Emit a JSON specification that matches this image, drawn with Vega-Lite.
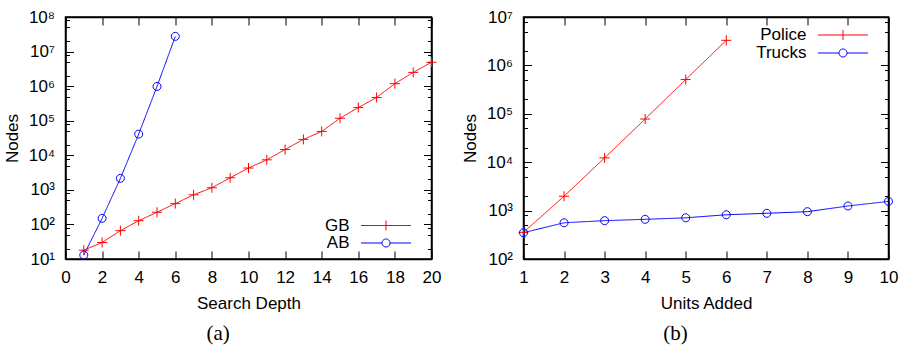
{
  "$schema": "https://vega.github.io/schema/vega-lite/v6.json",
  "background": "white",
  "padding": {"left": 2.5, "top": 7, "right": 5, "bottom": 5},
  "config": {
    "font": "Liberation Sans",
    "view": {"stroke": "black", "strokeWidth": 1.5},
    "axis": {
      "grid": false, "domainColor": "black", "domainWidth": 1.5,
      "tickColor": "black", "tickWidth": 1,
      "labelFont": "Liberation Sans", "labelFontSize": 17, "labelColor": "black",
      "titleFont": "Liberation Sans", "titleFontSize": 17, "titleFontWeight": "normal", "titleColor": "black",
      "labelOverlap": false, "labelFlush": false
    },
    "legend": {
      "labelFont": "Liberation Sans", "labelFontSize": 17, "labelColor": "black",
      "symbolStrokeWidth": 1, "symbolSize": 225, "rowPadding": 2, "symbolFillColor": "transparent",
      "labelAlign": "right", "labelOffset": -45, "padding": 0
    },
    "title": {"font": "Liberation Serif", "fontSize": 21, "fontWeight": "normal", "color": "black"}
  },
  "datasets": {
    "a": [
      {"x": 1, "y": 18, "series": "GB"}, {"x": 2, "y": 30, "series": "GB"}, {"x": 3, "y": 66, "series": "GB"},
      {"x": 4, "y": 128, "series": "GB"}, {"x": 5, "y": 225, "series": "GB"}, {"x": 6, "y": 400, "series": "GB"},
      {"x": 7, "y": 720, "series": "GB"}, {"x": 8, "y": 1150, "series": "GB"}, {"x": 9, "y": 2240, "series": "GB"},
      {"x": 10, "y": 4270, "series": "GB"}, {"x": 11, "y": 7400, "series": "GB"}, {"x": 12, "y": 14700, "series": "GB"},
      {"x": 13, "y": 28800, "series": "GB"}, {"x": 14, "y": 49000, "series": "GB"}, {"x": 15, "y": 118000, "series": "GB"},
      {"x": 16, "y": 240000, "series": "GB"}, {"x": 17, "y": 470000, "series": "GB"}, {"x": 18, "y": 1180000, "series": "GB"},
      {"x": 19, "y": 2500000, "series": "GB"}, {"x": 20, "y": 4900000, "series": "GB"},
      {"x": 1, "y": 13, "series": "AB"}, {"x": 2, "y": 150, "series": "AB"}, {"x": 3, "y": 2150, "series": "AB"},
      {"x": 4, "y": 41000, "series": "AB"}, {"x": 5, "y": 980000, "series": "AB"}, {"x": 6, "y": 27500000, "series": "AB"}
    ],
    "b": [
      {"x": 1, "y": 355, "series": "Police"}, {"x": 2, "y": 1980, "series": "Police"}, {"x": 3, "y": 12300, "series": "Police"},
      {"x": 4, "y": 78000, "series": "Police"}, {"x": 5, "y": 510000, "series": "Police"}, {"x": 6, "y": 3300000, "series": "Police"},
      {"x": 1, "y": 350, "series": "Trucks"}, {"x": 2, "y": 560, "series": "Trucks"}, {"x": 3, "y": 620, "series": "Trucks"},
      {"x": 4, "y": 660, "series": "Trucks"}, {"x": 5, "y": 710, "series": "Trucks"}, {"x": 6, "y": 820, "series": "Trucks"},
      {"x": 7, "y": 880, "series": "Trucks"}, {"x": 8, "y": 950, "series": "Trucks"}, {"x": 9, "y": 1245, "series": "Trucks"},
      {"x": 10, "y": 1550, "series": "Trucks"}
    ]
  },
  "resolve": {"scale": {"color": "independent", "strokeDash": "independent"}},
  "bounds": "flush",
  "spacing": 92,
  "hconcat": [
    {
      "width": 366, "height": 242,
      "data": {"name": "a"},
      "title": {"text": "(a)", "orient": "bottom", "anchor": "middle", "frame": "bounds", "offset": 12, "dx": -4},
      "resolve": {"axis": {"x": "independent", "y": "independent"}},
      "layer": [
        {
          "mark": {"type": "line", "strokeWidth": 1},
          "encoding": {
            "x": {"field": "x", "type": "quantitative", "scale": {"domain": [0, 20], "nice": false},
              "axis": {"title": "Search Depth", "values": [0,2,4,6,8,10,12,14,16,18,20], "tickSize": -8, "labelPadding": 18, "titlePadding": 10}},
            "y": {"field": "y", "type": "quantitative", "scale": {"type": "log", "domain": [10, 100000000], "nice": false},
              "axis": {"title": "Nodes", "titlePadding": 7, "labelPadding": 19,
                "values": [10,20,50,80,100,200,500,800,1000,2000,5000,8000,10000,20000,50000,80000,100000,200000,500000,800000,1000000,2000000,5000000,8000000,10000000,20000000,50000000,80000000,100000000],
                "labelExpr": "abs(log(datum.value)/LN10 - round(log(datum.value)/LN10)) < 0.001 ? '10' + ['⁰','¹','²','³','⁴','⁵','⁶','⁷','⁸','⁹'][round(log(datum.value)/LN10)] : ''",
                "tickSize": {"condition": {"test": "abs(log(datum.value)/LN10 - round(log(datum.value)/LN10)) < 0.001", "value": -8}, "value": -4}}},
            "color": {"field": "series", "type": "nominal", "scale": {"domain": ["GB", "AB"], "range": ["#ff0000", "#0000ff"]},
              "legend": {"title": null, "orient": "none", "legendX": 312, "legendY": 200, "values": ["GB"],
                "symbolType": "M-3.333,0H3.333M0,-0.667V0.667"}},
            "strokeDash": {"field": "series", "type": "nominal", "scale": {"domain": ["AB", "GB"], "range": [[1, 0], [1, 0]]},
              "legend": {"title": null, "orient": "none", "legendX": 312, "legendY": 217.5, "values": ["AB"], "symbolStrokeColor": "#0000ff",
                "symbolType": "M-3.333,0H-0.533M0.533,0H3.333M0.533,0A0.533,0.533 0 1 1 -0.533,0A0.533,0.533 0 1 1 0.533,0"}}
          }
        },
        {
          "transform": [{"filter": "datum.series === 'GB'"}],
          "mark": {"type": "point", "filled": false, "size": 100, "strokeWidth": 1, "opacity": 1, "color": "#ff0000", "shape": "M-1,0H1M0,-1V1"},
          "encoding": {
            "x": {"field": "x", "type": "quantitative",
              "axis": {"orient": "top", "title": null, "labels": false, "values": [0,2,4,6,8,10,12,14,16,18,20], "tickSize": -8}},
            "y": {"field": "y", "type": "quantitative",
              "axis": {"orient": "right", "title": null, "labels": false,
                "values": [10,20,50,80,100,200,500,800,1000,2000,5000,8000,10000,20000,50000,80000,100000,200000,500000,800000,1000000,2000000,5000000,8000000,10000000,20000000,50000000,80000000,100000000],
                "tickSize": {"condition": {"test": "abs(log(datum.value)/LN10 - round(log(datum.value)/LN10)) < 0.001", "value": -8}, "value": -4}}}
          }
        },
        {
          "transform": [{"filter": "datum.series === 'AB'"}],
          "mark": {"type": "point", "filled": false, "size": 100, "strokeWidth": 1, "opacity": 1, "color": "#0000ff", "shape": "M0.8,0A0.8,0.8 0 1 1 -0.8,0A0.8,0.8 0 1 1 0.8,0"},
          "encoding": {
            "x": {"field": "x", "type": "quantitative", "axis": null},
            "y": {"field": "y", "type": "quantitative", "axis": null}
          }
        }
      ]
    },
    {
      "width": 365, "height": 242,
      "data": {"name": "b"},
      "title": {"text": "(b)", "orient": "bottom", "anchor": "middle", "frame": "bounds", "offset": 12, "dx": -4},
      "resolve": {"axis": {"x": "independent", "y": "independent"}},
      "layer": [
        {
          "mark": {"type": "line", "strokeWidth": 1},
          "encoding": {
            "x": {"field": "x", "type": "quantitative", "scale": {"domain": [1, 10], "nice": false},
              "axis": {"title": "Units Added", "values": [1,2,3,4,5,6,7,8,9,10], "tickSize": -8, "labelPadding": 18, "titlePadding": 10}},
            "y": {"field": "y", "type": "quantitative", "scale": {"type": "log", "domain": [100, 10000000], "nice": false},
              "axis": {"title": "Nodes", "titlePadding": 7, "labelPadding": 19,
                "values": [100,200,500,800,1000,2000,5000,8000,10000,20000,50000,80000,100000,200000,500000,800000,1000000,2000000,5000000,8000000,10000000],
                "labelExpr": "abs(log(datum.value)/LN10 - round(log(datum.value)/LN10)) < 0.001 ? '10' + ['⁰','¹','²','³','⁴','⁵','⁶','⁷','⁸','⁹'][round(log(datum.value)/LN10)] : ''",
                "tickSize": {"condition": {"test": "abs(log(datum.value)/LN10 - round(log(datum.value)/LN10)) < 0.001", "value": -8}, "value": -4}}},
            "color": {"field": "series", "type": "nominal", "scale": {"domain": ["Police", "Trucks"], "range": ["#ff0000", "#0000ff"]},
              "legend": {"title": null, "orient": "none", "legendX": 311, "legendY": 9.5, "values": ["Police"],
                "symbolType": "M-3.333,0H3.333M0,-0.667V0.667"}},
            "strokeDash": {"field": "series", "type": "nominal", "scale": {"domain": ["Trucks", "Police"], "range": [[1, 0], [1, 0]]},
              "legend": {"title": null, "orient": "none", "legendX": 311, "legendY": 27.5, "values": ["Trucks"], "symbolStrokeColor": "#0000ff",
                "symbolType": "M-3.333,0H-0.533M0.533,0H3.333M0.533,0A0.533,0.533 0 1 1 -0.533,0A0.533,0.533 0 1 1 0.533,0"}}
          }
        },
        {
          "transform": [{"filter": "datum.series === 'Police'"}],
          "mark": {"type": "point", "filled": false, "size": 100, "strokeWidth": 1, "opacity": 1, "color": "#ff0000", "shape": "M-1,0H1M0,-1V1"},
          "encoding": {
            "x": {"field": "x", "type": "quantitative",
              "axis": {"orient": "top", "title": null, "labels": false, "values": [1,2,3,4,5,6,7,8,9,10], "tickSize": -8}},
            "y": {"field": "y", "type": "quantitative",
              "axis": {"orient": "right", "title": null, "labels": false,
                "values": [100,200,500,800,1000,2000,5000,8000,10000,20000,50000,80000,100000,200000,500000,800000,1000000,2000000,5000000,8000000,10000000],
                "tickSize": {"condition": {"test": "abs(log(datum.value)/LN10 - round(log(datum.value)/LN10)) < 0.001", "value": -8}, "value": -4}}}
          }
        },
        {
          "transform": [{"filter": "datum.series === 'Trucks'"}],
          "mark": {"type": "point", "filled": false, "size": 100, "strokeWidth": 1, "opacity": 1, "color": "#0000ff", "shape": "M0.8,0A0.8,0.8 0 1 1 -0.8,0A0.8,0.8 0 1 1 0.8,0"},
          "encoding": {
            "x": {"field": "x", "type": "quantitative", "axis": null},
            "y": {"field": "y", "type": "quantitative", "axis": null}
          }
        }
      ]
    }
  ]
}
